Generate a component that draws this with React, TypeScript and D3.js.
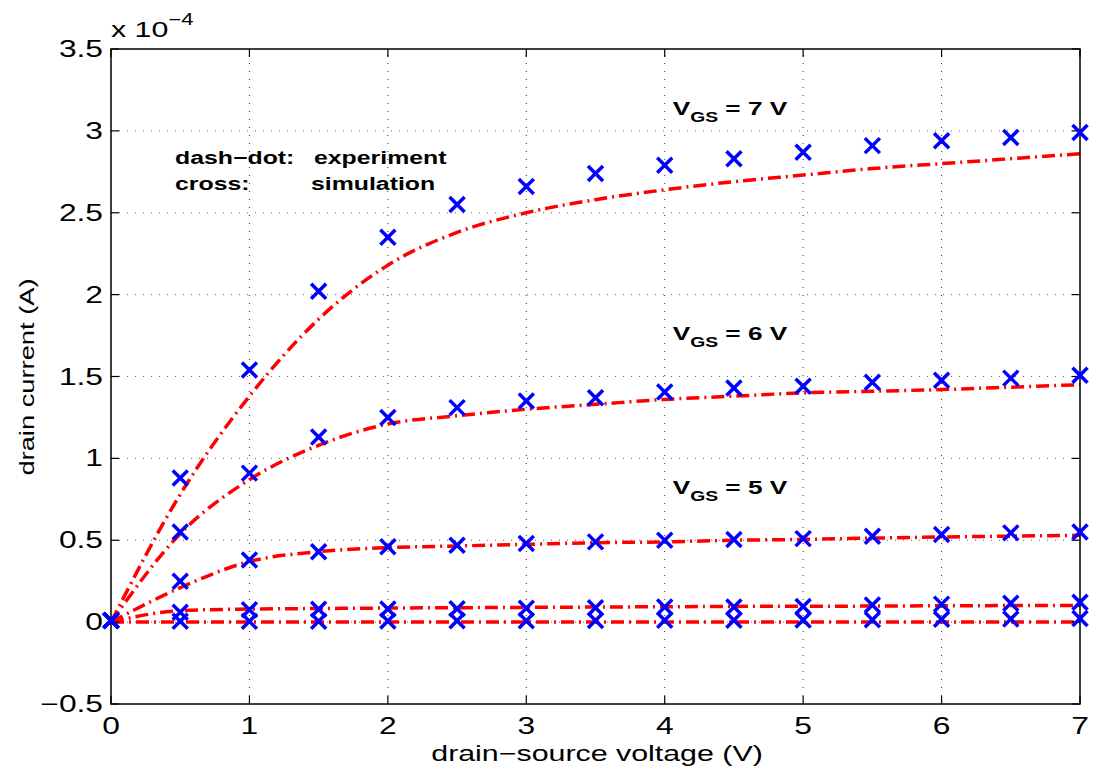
import React from "react";
import * as d3 from "d3";

const vds = [0, 0.5, 1, 1.5, 2, 2.5, 3, 3.5, 4, 4.5, 5, 5.5, 6, 6.5, 7];

// simulation (crosses), units of 1e-4 A
const sim7 = [0.01, 0.88, 1.54, 2.02, 2.35, 2.55, 2.66, 2.74, 2.79, 2.83, 2.87, 2.91, 2.94, 2.96, 2.99];
const sim6 = [0.01, 0.55, 0.91, 1.13, 1.25, 1.31, 1.35, 1.37, 1.405, 1.43, 1.44, 1.465, 1.477, 1.49, 1.507];
const sim5 = [0.01, 0.25, 0.38, 0.43, 0.46, 0.47, 0.48, 0.49, 0.5, 0.505, 0.51, 0.525, 0.535, 0.545, 0.55];
const sim4 = [0.01, 0.06, 0.075, 0.078, 0.08, 0.082, 0.085, 0.088, 0.093, 0.092, 0.095, 0.105, 0.11, 0.115, 0.122];
const sim3 = [0.01, 0.005, 0.005, 0.006, 0.007, 0.008, 0.009, 0.01, 0.011, 0.012, 0.013, 0.015, 0.017, 0.019, 0.022];

// experiment (dash-dot lines)
const exp7 = [0, 0.78, 1.38, 1.85, 2.18, 2.38, 2.5, 2.58, 2.64, 2.69, 2.73, 2.77, 2.8, 2.83, 2.86];
const exp6 = [0, 0.54, 0.87, 1.08, 1.21, 1.26, 1.3, 1.33, 1.36, 1.38, 1.4, 1.41, 1.42, 1.435, 1.45];
const exp5 = [0, 0.21, 0.37, 0.43, 0.455, 0.465, 0.475, 0.485, 0.49, 0.5, 0.505, 0.513, 0.52, 0.525, 0.53];
const exp4 = [0, 0.07, 0.08, 0.083, 0.086, 0.088, 0.09, 0.092, 0.094, 0.096, 0.097, 0.098, 0.1, 0.101, 0.102];
const exp3 = [0, 0.001, 0.001, 0.001, 0.001, 0.001, 0.001, 0.001, 0.001, 0.001, 0.001, 0.001, 0.001, 0.001, 0.001];

const xTicks = [0, 1, 2, 3, 4, 5, 6, 7];
const yTicks = [-0.5, 0, 0.5, 1, 1.5, 2, 2.5, 3, 3.5];

const labels = [
  { v: "7", y: 3.1, x: 4.0 },
  { v: "6", y: 1.72, x: 4.0 },
  { v: "5", y: 0.78, x: 4.0 },
];

const L = 111, R = 1080, T = 49, B = 704;
const SX = 1.38;

function Txt(props: {
  x: number;
  y: number;
  size: number;
  anchor?: string;
  weight?: string;
  rotate?: boolean;
  sx?: number;
  children: React.ReactNode;
}) {
  const { x, y, size, anchor, weight, rotate, children } = props;
  const s = props.sx || SX;
  return (
    <text
      transform={`translate(${x},${y})${rotate ? " rotate(-90)" : ""} scale(${s},1)`}
      fontSize={size}
      fontWeight={weight || "normal"}
      textAnchor={anchor || "start"}
      fill="#000"
    >
      {children}
    </text>
  );
}

export default function App() {
  const x = d3.scaleLinear().domain([0, 7]).range([L, R]);
  const y = d3.scaleLinear().domain([-0.5, 3.5]).range([B, T]);
  const line = d3
    .line<number>()
    .x((_, i) => x(vds[i]))
    .y((d) => y(d))
    .curve(d3.curveMonotoneX);
  const sims = [sim7, sim6, sim5, sim4, sim3];
  const exps = [exp7, exp6, exp5, exp4, exp3];
  const font = "'Liberation Sans', Arial, Helvetica, sans-serif";
  const cs = 7.5;
  const fmt = (t: number) => (t < 0 ? "\u2212" + String(-t) : String(t));
  return (
    <svg
      width={1100}
      height={773}
      style={{ position: "absolute", left: 0, top: 0, background: "#fff" }}
      fontFamily={font}
    >
      <rect x={0} y={0} width={1100} height={773} fill="#fff" />
      {/* grid */}
      <g stroke="#333" strokeWidth={1} strokeDasharray="1,7">
        {xTicks.slice(1, -1).map((t) => (
          <line key={"gx" + t} x1={x(t)} x2={x(t)} y1={B} y2={T} />
        ))}
        {yTicks.slice(1, -1).map((t) => (
          <line key={"gy" + t} x1={L} x2={R} y1={y(t)} y2={y(t)} stroke="#666" />
        ))}
      </g>
      {/* experiment lines */}
      <g fill="none" stroke="#ff0000" strokeWidth={3.5} strokeDasharray="13,5,2,5">
        {exps.map((e, i) => (
          <path key={"e" + i} d={line(e) || ""} />
        ))}
      </g>
      {/* axes box */}
      <rect x={L} y={T} width={R - L} height={B - T} fill="none" stroke="#000" strokeWidth={1.5} />
      <g stroke="#000" strokeWidth={1.2}>
        {xTicks.map((t) => (
          <g key={"tx" + t}>
            <line x1={x(t)} x2={x(t)} y1={B} y2={B - 8} />
            <line x1={x(t)} x2={x(t)} y1={T} y2={T + 8} />
          </g>
        ))}
        {yTicks.map((t) => (
          <g key={"ty" + t}>
            <line x1={L} x2={L + 8} y1={y(t)} y2={y(t)} />
            <line x1={R} x2={R - 8} y1={y(t)} y2={y(t)} />
          </g>
        ))}
      </g>
      {/* simulation crosses */}
      <g stroke="#0000ff" strokeWidth={3.5} strokeLinecap="butt">
        {sims.map((s, i) =>
          s.map((v, j) => (
            <g key={"c" + i + "-" + j} transform={`translate(${x(vds[j])},${y(v)})`}>
              <line x1={-cs} y1={-cs} x2={cs} y2={cs} />
              <line x1={-cs} y1={cs} x2={cs} y2={-cs} />
            </g>
          ))
        )}
      </g>
      {/* tick labels */}
      {xTicks.map((t) => (
        <Txt key={"lx" + t} x={x(t)} y={734} size={23} anchor="middle">
          {String(t)}
        </Txt>
      ))}
      {yTicks.map((t) => (
        <Txt key={"ly" + t} x={103} y={y(t) + 8} size={23} anchor="end">
          {fmt(t)}
        </Txt>
      ))}
      <Txt x={111} y={37} size={22}>
        x 10
        <tspan dy={-12} fontSize={16}>
          {"\u22124"}
        </tspan>
      </Txt>
      <Txt x={597} y={761} size={22} anchor="middle">
        drain{"\u2212"}source voltage (V)
      </Txt>
      <Txt x={34} y={377} size={21} anchor="middle" rotate sx={1.3}>
        drain current (A)
      </Txt>
      {/* annotations */}
      <Txt x={175} y={164} size={18} weight="bold">dash{"\u2212"}dot:</Txt>
      <Txt x={314} y={164} size={18} weight="bold">experiment</Txt>
      <Txt x={175} y={190} size={18} weight="bold">cross:</Txt>
      <Txt x={311} y={190} size={18} weight="bold">simulation</Txt>
      {labels.map((l) => (
        <Txt key={"v" + l.v} x={x(l.x) + 8} y={y(l.y)} size={19} weight="bold">
          V
          <tspan fontSize={14} dy={7}>GS</tspan>
          <tspan dy={-7}> = {l.v} V</tspan>
        </Txt>
      ))}
    </svg>
  );
}
